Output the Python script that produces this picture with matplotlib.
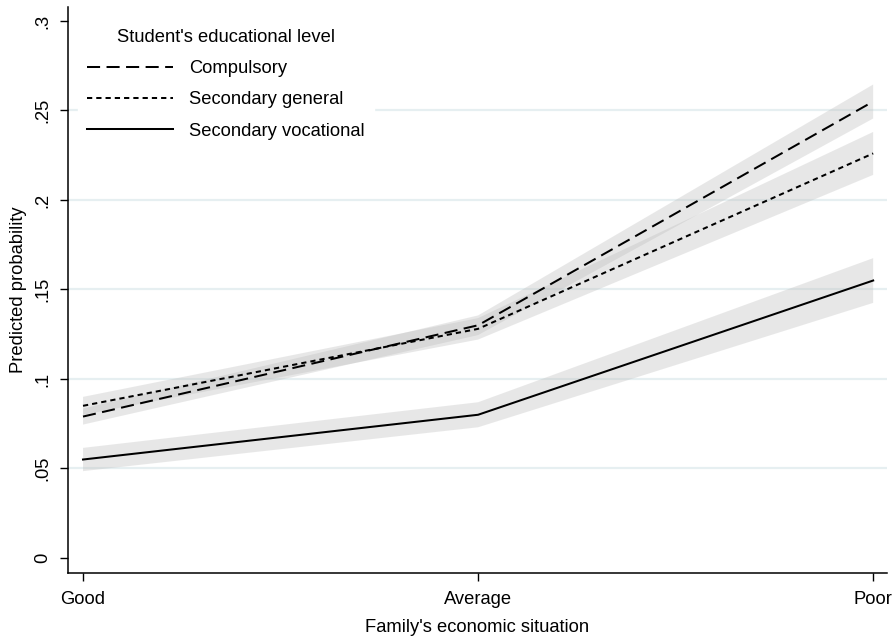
import numpy as np
import matplotlib
matplotlib.use("Agg")
import matplotlib.pyplot as plt

plt.rcParams['font.family'] = ['Liberation Sans', 'DejaVu Sans']

# Predicted probabilities with 95% CI half-widths
situations = ["Good", "Average", "Poor"]
levels = ["Compulsory", "Secondary general", "Secondary vocational"]
compulsory = [0.079, 0.130, 0.255]
compulsory_ci = [0.0045, 0.0055, 0.0095]
general = [0.085, 0.128, 0.226]
general_ci = [0.005, 0.006, 0.012]
vocational = [0.055, 0.080, 0.155]
vocational_ci = [0.0065, 0.007, 0.0125]

yticks = [0, 0.05, 0.1, 0.15, 0.2, 0.25, 0.3]
yticklabels = ["0", ".05", ".1", ".15", ".2", ".25", ".3"]

fs = 13.2

fig = plt.figure(figsize=(8.95, 6.39), dpi=100)
ax = fig.add_axes([68/895, 1-573/639, (887-68)/895, (573-7)/639])

x = np.arange(len(situations))
styles = [(0, (6.5, 3.2)), (0, (2.6, 2.0)), "solid"]
series = [(compulsory, compulsory_ci), (general, general_ci), (vocational, vocational_ci)]

for (vals, ci), ls, lab in zip(series, styles, levels):
    vals = np.array(vals)
    ci = np.array(ci)
    ax.fill_between(x, vals - ci, vals + ci, facecolor="#bdbdbd", alpha=0.35,
                    linewidth=0, zorder=2)
    ax.plot(x, vals, color="black", linestyle=ls, linewidth=1.45, label=lab, zorder=3)

# light horizontal grid
for yv in yticks[1:-1]:
    ax.axhline(yv, color="#e6eff1", linewidth=1.6, zorder=1)

ax.set_xlim(-0.038, 2.035)
ax.set_ylim(-0.0084, 0.3078)
ax.set_xticks(x)
ax.set_xticklabels(situations, fontsize=fs)
ax.set_yticks(yticks)
ax.set_yticklabels(yticklabels, fontsize=fs, rotation=90, va="center")
ax.tick_params(axis="both", direction="out", length=6, width=1, color="black")
ax.tick_params(axis="x", pad=7)
ax.tick_params(axis="y", pad=6)

for side in ["top", "right"]:
    ax.spines[side].set_visible(False)
for side in ["left", "bottom"]:
    ax.spines[side].set_linewidth(1.1)

ax.set_xlabel("Family's economic situation", fontsize=fs, labelpad=8)
ax.set_ylabel("Predicted probability", fontsize=fs, labelpad=5)

leg = ax.legend(title="Student's educational level", loc="upper left",
                bbox_to_anchor=(0.001, 0.994), fontsize=fs, title_fontsize=fs,
                frameon=True, fancybox=False, edgecolor="white", facecolor="white",
                framealpha=1, handlelength=4.7, handletextpad=0.85, labelspacing=0.78,
                borderpad=0.5)
leg.set_zorder(5)

fig.savefig("out.png", dpi=100)
